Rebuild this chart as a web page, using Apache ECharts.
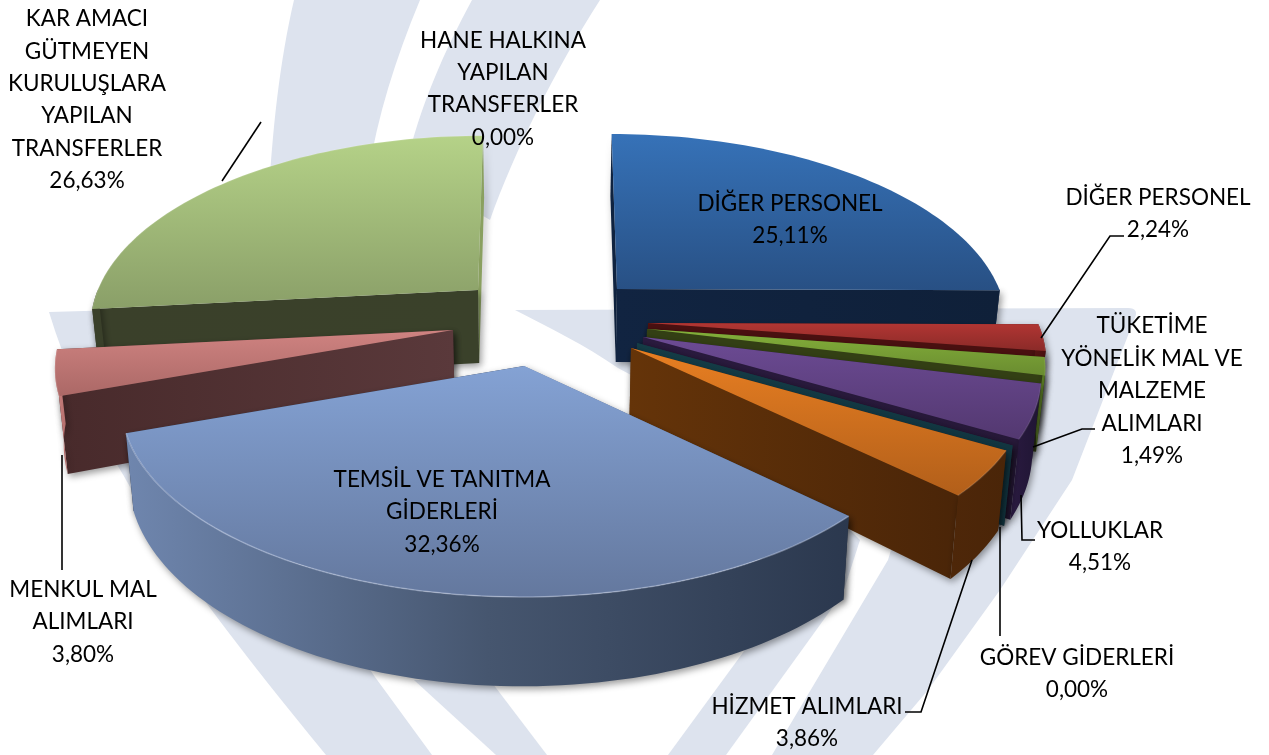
<!DOCTYPE html>
<html><head><meta charset="utf-8">
<style>html,body{margin:0;padding:0;background:#fff}#c{width:1269px;height:755px}</style>
<script src="https://cdn.jsdelivr.net/npm/echarts@6/dist/echarts.min.js"></script>
</head><body><div id="c"></div>
<script>
// ---- data (reading order, clockwise from 12 o'clock)
const categories = ['DİĞER PERSONEL','DİĞER PERSONEL','TÜKETİME\nYÖNELİK MAL VE\nMALZEME\nALIMLARI','YOLLUKLAR','GÖREV GİDERLERİ','HİZMET ALIMLARI','TEMSİL VE TANITMA\nGİDERLERİ','MENKUL MAL\nALIMLARI','KAR AMACI\nGÜTMEYEN\nKURULUŞLARA\nYAPILAN\nTRANSFERLER','HANE HALKINA\nYAPILAN\nTRANSFERLER'];
const values = [25.11,2.24,1.49,4.51,0.00,3.86,32.36,3.80,26.63,0.00];

// ---- styling and layout (exploded 3D look)
const view = {A:390,B:186,k:0.18,D:73,cx:545,conv:0.5,tilt:0.018};
const apex = [[617,289],[648,323],[647,329],[643,337],[637,343],[631,348],[524,366],[453,330],[478,290],null];
const sliceScale = [0.98,1,1,1,1,1,1.015,1,0.975,1];
const topFill = [['#3672b8','#285084'],['#b23633','#8a2a28'],['#84b03a','#6a8c30'],['#6c4b94','#533870'],['#1d6170','#1d6170'],['#e87f22','#b25f1a'],['#84a2d4','#64789e'],['#cf8381','#ab6866'],['#b5d288','#8a9f68'],['#ccc','#ccc']];
const sideFill = [['#0f2340','#0f2340'],['#5a1614','#4a1010'],['#64852c','#50701f'],['#2a1a40','#1f1533'],['#143c46','#143c46'],['#4e2709','#4a2508'],['#6f86ae','#46566f','#2b384e'],['#cf8381','#b06c6a'],['#3a402a','#3a402a'],['#ccc','#ccc']];
const wallFill = [[['#0f2340','#0f2340'],['#112441','#0f2039']],[['#4a1010','#4a1010'],['#4a1010','#4a1010']],[['#333f14','#333f14'],['#333f14','#333f14']],[['#2a1a3e','#2a1a3e'],['#2a1a3e','#261838']],[['#143c46','#143c46'],['#143c46','#113540']],[['#5e3009','#4a2508'],['#653409','#4a2508']],[['#6f86ae','#2b384e'],['#2b384e','#2b384e']],[['#482a2b','#5a393b'],['#5a393b','#5a393b']],[['#3a402a','#3a412a'],['#8aa060','#8aa060']],[['#ccc','#ccc'],['#ccc','#ccc']]];
const bevel = ['rgba(255,255,255,0)','rgba(255,255,255,0.08)','rgba(255,255,255,0.1)','rgba(255,255,255,0.1)','rgba(255,255,255,0)','rgba(255,255,255,0.12)','rgba(225,235,255,0.35)','rgba(255,255,255,0.15)','rgba(255,255,255,0.12)','rgba(255,255,255,0)'];
const drawOrder = [8,0,7,1,2,3,4,5,6];
const labelPos = [[790,220],[1158,214],[1152,391],[1100,547],[1077,674],[807,723],[442,512],[83,622],[87,100],[503,89]];
const leaders = [
 [[1124,236],[1110,236],[1041,338]],
 [[1095,429],[1082,429],[1033,447]],
 [[1035,540],[1022,540],[1021,495]],
 [[1000,527],[1000,636]],
 [[905,712],[921,712],[972,560]],
 [[62,455],[62,570]],
 [[261,122],[222,181]]
];
const bgShapes = [
 'M294,0 L420,0 C395,60 378,115 368,175 L268,210 C272,130 280,60 294,0 Z',
 'M472,0 L600,0 C555,70 515,150 490,220 L405,170 C420,105 445,50 472,0 Z',
 'M515,310 L1128,308 Q1140,308 1134,320 L1072,480 L1000,590 L928,690 L873,755 L772,755 L888,560 L900,520 L618,368 C585,345 550,328 515,310 Z',
 'M840,520 L860,540 L843,593 L726,755 L668,755 Z',
 'M49,312 L120,310 L200,420 L375,677 L432,755 L326,755 C240,650 170,560 125,478 C90,420 65,365 49,312 Z',
 'M414,680 L490,680 L547,755 L496,755 Z'
];

const total = values.reduce((a,b)=>a+b,0);
const starts = []; let acc = 0;
values.forEach((v,i)=>{ starts[i]=acc/total*360; acc+=v; });
const grad = (c,h)=> new echarts.graphic.LinearGradient(0,0,h?1:0,h?0:1,c.map((col,j)=>({offset:j/(c.length-1),color:col})));

function proj(a,deg,r,z){
  const t=deg*Math.PI/180, u=r*Math.sin(t), v=r*Math.cos(t), w=1+view.k*v;
  let x=a[0]+view.A*u/w+(a[0]-view.cx)*(1/w-1)*view.conv;
  const y=a[1]-view.B*v/w+view.D*z/w;
  x-=z*(x-view.cx)*view.tilt;
  return [x,y];
}
function renderSlice(params,api){
  const i=api.value(0), a=apex[i], t0=starts[i], t1=t0+values[i]/total*360, R=sliceScale[i];
  const children=[];
  const shadow={shadowBlur:7,shadowColor:'rgba(0,0,0,0.4)',shadowOffsetX:2,shadowOffsetY:3};
  // back-most radial wall first
  [[t0,0],[t1,1]].sort((p,q)=>Math.cos(q[0]*Math.PI/180)-Math.cos(p[0]*Math.PI/180)).forEach(([th,k])=>{
    children.push({type:'polygon',shape:{points:[proj(a,th,0,0),proj(a,th,R,0),proj(a,th,R,1),proj(a,th,0,1)]},
      style:Object.assign({fill:grad(wallFill[i][k],true)},shadow)});
  });
  const n=Math.max(2,Math.ceil((t1-t0)/1.5));
  const arc=z=>{const p=[];for(let j=0;j<=n;j++)p.push(proj(a,t0+(t1-t0)*j/n,R,z));return p;};
  const s0=Math.max(t0,90), s1=Math.min(t1,270);
  if(s1>s0){
    const up=[],dn=[];const m=Math.ceil((s1-s0)/1.5)+1;
    for(let j=0;j<=m;j++){const th=s0+(s1-s0)*j/m;up.push(proj(a,th,R,0));dn.unshift(proj(a,th,R,1));}
    children.push({type:'polygon',shape:{points:up.concat(dn)},style:Object.assign({fill:grad(sideFill[i].slice().reverse().reverse(),true)},shadow)});
  }
  if(t1>t0){
    const pts=[proj(a,t0,0,0)].concat(arc(0));
    children.push({type:'polygon',shape:{points:pts},style:{fill:grad(topFill[i],false)}});
    children.push({type:'polyline',shape:{points:arc(0)},style:{fill:null,stroke:bevel[i],lineWidth:1.5}});
  }
  return {type:'group',children};
}
function renderBackdrop(){
  return {type:'group',children:bgShapes.map(d=>({type:'path',shape:{pathData:d},style:{fill:'#dde3ee'}}))};
}

const chart=echarts.init(document.getElementById('c'),null,{renderer:'canvas'});
const graphics=[];
leaders.forEach(p=>graphics.push({type:'polyline',z:20,shape:{points:p},style:{fill:null,stroke:'#000',lineWidth:1.6}}));
categories.forEach((name,i)=>{
  graphics.push({type:'text',z:30,x:labelPos[i][0],y:labelPos[i][1],
    style:{text:name+'\n'+values[i].toFixed(2).replace('.',',')+'%',fill:'#000',align:'center',verticalAlign:'middle',
      font:'22.5px Lato, Carlito, "Open Sans", sans-serif',lineHeight:32.4}});
});
chart.setOption({
  animation:false,
  backgroundColor:'#fff',
  graphic:{elements:graphics},
  series:[
    {type:'custom',z:1,coordinateSystem:'none',silent:true,renderItem:renderBackdrop,data:[[0]]},
    {type:'custom',z:2,coordinateSystem:'none',silent:true,renderItem:renderSlice,
     data:drawOrder.map(i=>[i,values[i]]),encode:{value:[0,1]}}]
});
</script></body></html>
